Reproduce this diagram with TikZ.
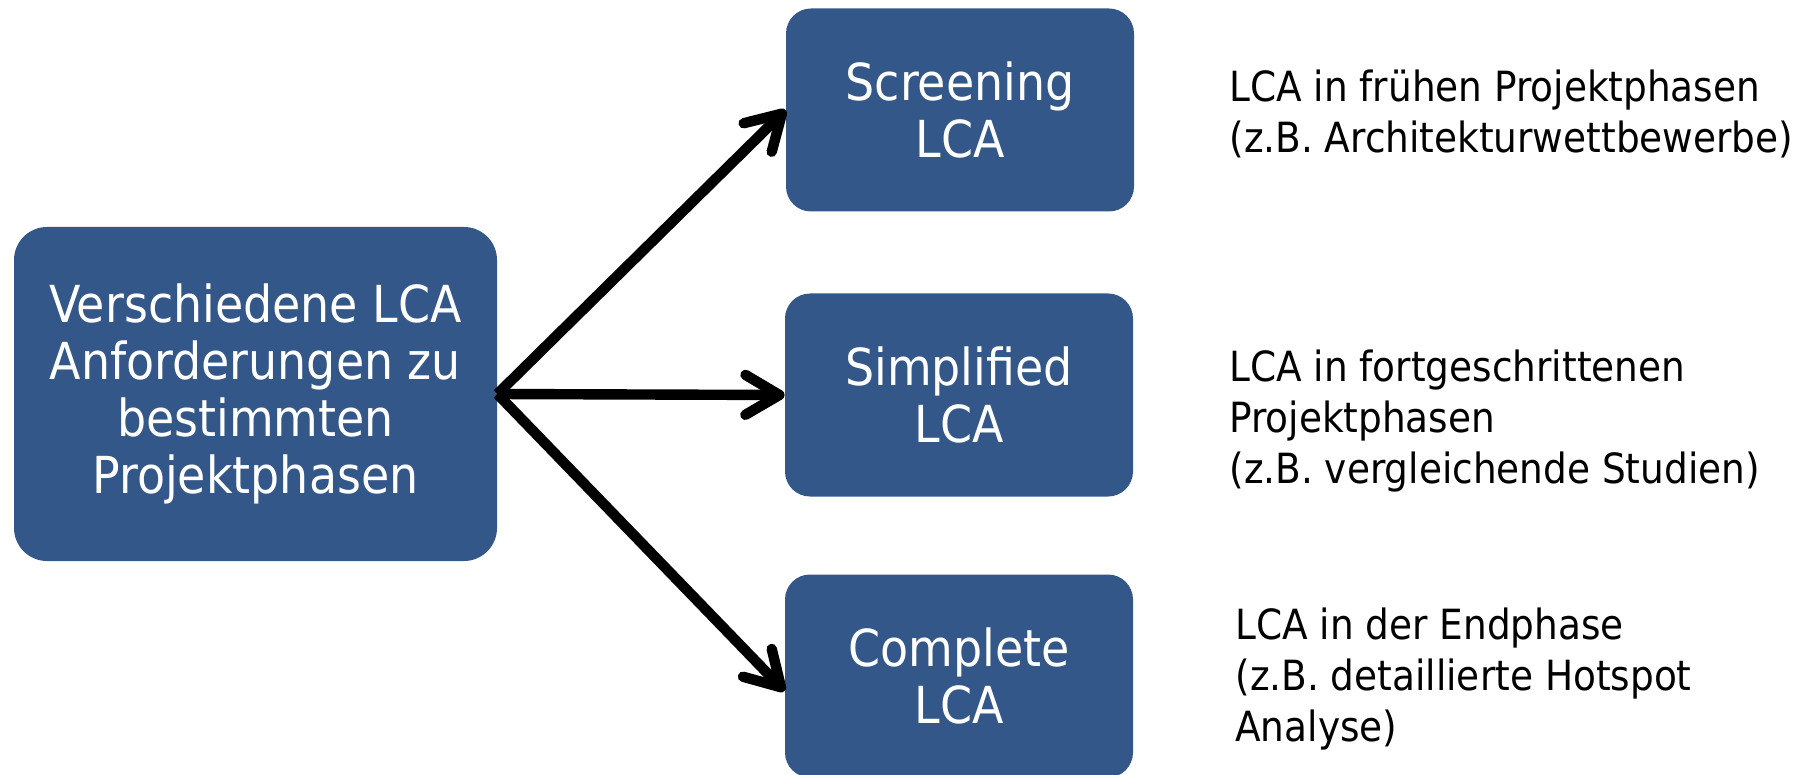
\documentclass[tikz,border=0pt]{standalone}
\usepackage{fontspec}
\setmainfont{DejaVu Sans Condensed}
\usetikzlibrary{arrows.meta}
\definecolor{boxblue}{RGB}{52,87,137}
\tikzset{
  phasebox/.style={fill=boxblue, draw=none, rounded corners=12.5pt,
    minimum width=174pt, minimum height=101.5pt, inner sep=0pt,
    text=white, align=center, font=\fontsize{25.5}{28.5}\selectfont},
  sourcebox/.style={phasebox, rounded corners=16.5pt,
    minimum width=241.5pt, minimum height=167pt},
  note/.style={anchor=west, inner sep=0pt, align=left, text=black,
    font=\fontsize{20.8}{25.5}\selectfont},
  branch/.style={line width=5.2pt, draw=black,
    -{Straight Barb[length=17pt, width=20pt, round]}}
}
\begin{document}
\begin{tikzpicture}[x=0.5pt, y=-0.5pt]
  \useasboundingbox (0,0) rectangle (1805,775);
  % source box on the left
  \node[sourcebox] (src) at (255.5,394)
    {Verschiedene LCA\\Anforderungen zu\\bestimmten\\Projektphasen};
  % the three kinds of LCA
  \node[phasebox] (scr) at (960,110) {Screening\\LCA};
  \node[phasebox] (sim) at (959,395) {Simplified\\LCA};
  \node[phasebox] (com) at (959,676) {Complete\\LCA};
  % branching arrows
  \draw[branch] (src.east) -- (scr.west);
  \draw[branch] (src.east) -- (sim.west);
  \draw[branch] (src.east) -- ([yshift=-7.5pt]com.west);
  % explanations on the right
  \node[note] (n1) at (1229,114)
    {LCA in frühen Projektphasen\\(z.B. Architekturwettbewerbe)};
  \node[note] (n2) at (1229,421)
    {LCA in fortgeschrittenen\\Projektphasen\\(z.B. vergleichende Studien)};
  \node[note] (n3) at (1235,679)
    {LCA in der Endphase\\(z.B. detaillierte Hotspot\\Analyse)};
\end{tikzpicture}
\end{document}
